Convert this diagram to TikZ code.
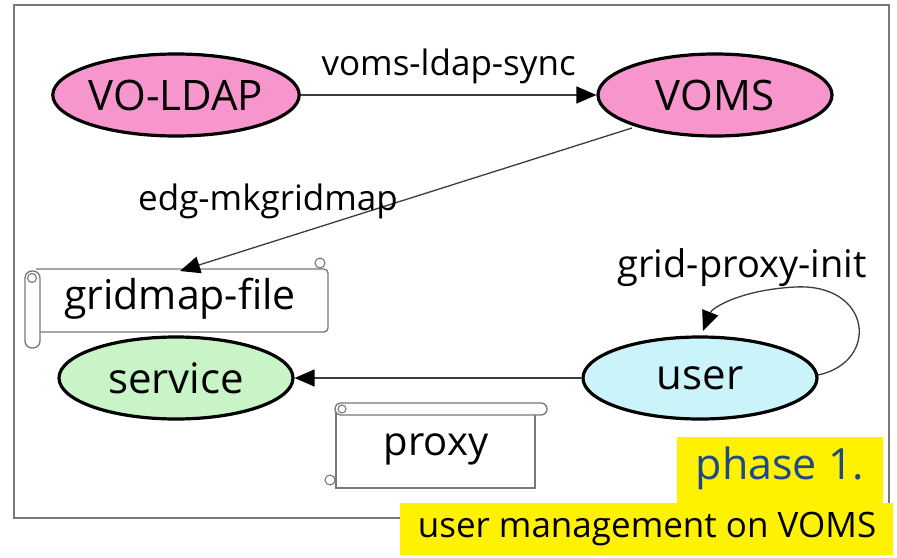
\documentclass[tikz,border=0pt]{standalone}
\usepackage{fontspec}
\setmainfont{Open Sans}
\usetikzlibrary{arrows.meta,shapes.geometric}
\definecolor{ldappink}{RGB}{246,150,204}
\definecolor{svcgreen}{RGB}{200,244,200}
\definecolor{usercyan}{RGB}{202,244,250}
\definecolor{framegray}{RGB}{120,120,120}
\definecolor{linkgray}{RGB}{60,60,60}
\definecolor{phaseblue}{RGB}{30,72,140}
\tikzset{
  actor/.style={ellipse, draw=black, line width=3.2pt, minimum width=234pt,
    minimum height=82pt, inner sep=0pt, font=\fontsize{42}{44}\selectfont},
  link/.style={draw=linkgray, line width=1.3pt,
    -{Triangle[length=20pt,width=17pt,fill=black,color=black]}},
  linklabel/.style={font=\fontsize{35}{37}\selectfont, inner sep=0pt},
  paper/.style={draw=framegray, line width=1.3pt, fill=white},
  curl/.style={draw=framegray, line width=1.1pt, fill=white},
  banner/.style={fill=yellow, inner sep=0pt, anchor=center}
}
\begin{document}
\begin{tikzpicture}[x=1pt,y=-1pt]
\useasboundingbox (0,0) rectangle (897,557);
\fill[white] (0,0) rectangle (897,557);

% outer frame
\draw[framegray, line width=1.8pt] (14,5) rectangle (889,518);

% actors
\node[actor, fill=ldappink] (ldap) at (176,95) {VO-LDAP};
\node[actor, fill=ldappink] (voms) at (715,95) {VOMS};
\node[actor, fill=svcgreen] (service) at (176,378) {service};
\node[actor, fill=usercyan] (user) at (700,378) {user};

% gridmap-file scroll (vertical roll on the left)
\draw[paper, rounded corners=4pt] (36,269) -- (328,269) -- (328,332) -- (36,332);
\draw[curl] (320,263) circle (5pt);
\draw[paper, rounded corners=7pt] (25,271) rectangle (40,348);
\draw[curl] (32,278) circle (4.5pt);
\node[font=\fontsize{41}{43}\selectfont, inner sep=0pt] (gridmap) at (180,299) {gridmap-file};
\coordinate (gmtop) at (180,271);

% proxy scroll (horizontal roll on top)
\draw[paper] (336,412) -- (336,488) -- (535,488) [rounded corners=3pt]-- (535,412);
\draw[curl] (330,480) circle (5pt);
\draw[paper, rounded corners=6pt] (335,403) rectangle (547,415);
\draw[curl] (342,409) circle (4pt);
\node[font=\fontsize{40}{42}\selectfont, inner sep=0pt] (proxy) at (436,449) {proxy};

% connectors
\draw[link] (ldap) -- (voms)
  node[linklabel, midway, above=10pt] {voms-ldap-sync};
\coordinate (vomsfoot) at (632,128);
\draw[link] (vomsfoot) -- (gmtop);
\node[linklabel] (mklabel) at (268,201) {edg-mkgridmap};
\draw[link] (user) -- (service);

% self loop on user
\coordinate (loopstart) at (818,375);
\coordinate (looptop) at (795,287);
\coordinate (loopend) at (703,331);
\draw[link] (loopstart) .. controls (880,362) and (872,283) .. (looptop)
  .. controls (740,290) and (712,308) .. (loopend);
\node[linklabel, font=\fontsize{38}{40}\selectfont] (initlabel) at (742,268) {grid-proxy-init};

% phase banners
\node[banner, minimum width=206pt, minimum height=67pt] (phasebox) at (780,470) {};
\node[font=\fontsize{43}{45}\selectfont, text=phaseblue, inner sep=0pt] (phase) at (780,468) {phase 1.};
\node[banner, minimum width=493pt, minimum height=52pt] (mgmtbox) at (646,529) {};
\node[font=\fontsize{35}{37}\selectfont, inner sep=0pt] (mgmt) at (647,529) {user management on VOMS};
\end{tikzpicture}
\end{document}
